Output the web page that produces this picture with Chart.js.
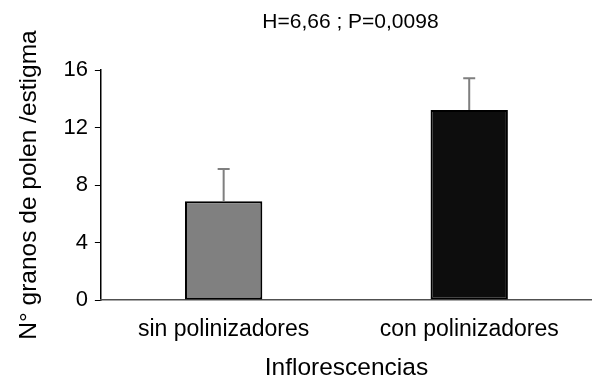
<!DOCTYPE html>
<html>
<head>
<meta charset="utf-8">
<script src="https://cdn.jsdelivr.net/npm/chart.js@4.4.0/dist/chart.umd.min.js"></script>
<style>
  html, body { margin: 0; padding: 0; background: #ffffff; }
  #wrap { width: 592px; height: 383px; }
</style>
</head>
<body>
<div id="wrap"><canvas id="polenChart"></canvas></div>
<script>
var categories = ['sin polinizadores', 'con polinizadores'];
var meanValues = [6.87, 13.22];
var errorTops = [9.11, 15.42];
var yTicks = [0, 4, 8, 12, 16];
var barColors = ['#808080', '#0d0d0d'];
var titleText = 'H=6,66 ; P=0,0098';

var fontFamily = 'Liberation Sans, Arial, sans-serif';

// error bars (upper only) + title centred over plot area
var errorBarPlugin = {
    id: 'errorBars',
    afterDatasetsDraw: function (chart) {
        var ctx = chart.ctx;
        var meta = chart.getDatasetMeta(0);
        var yScale = chart.scales.y;
        ctx.save();
        ctx.strokeStyle = '#7f7f7f';
        ctx.lineWidth = 2;
        meta.data.forEach(function (bar, i) {
            var yTop = yScale.getPixelForValue(errorTops[i]);
            var yBase = yScale.getPixelForValue(meanValues[i]);
            ctx.beginPath();
            ctx.moveTo(bar.x, yBase);
            ctx.lineTo(bar.x, yTop);
            ctx.moveTo(bar.x - 6, yTop);
            ctx.lineTo(bar.x + 6, yTop);
            ctx.stroke();
        });
        var area = chart.chartArea;
        ctx.fillStyle = '#000000';
        ctx.font = '21px ' + fontFamily;
        ctx.textAlign = 'center';
        ctx.textBaseline = 'middle';
        ctx.fillText(titleText, (area.left + area.right) / 2 + 4, 22);
        ctx.restore();
    }
};

var ctxBar = document.getElementById('polenChart');
new Chart(ctxBar, {
    type: 'bar',
    data: {
        labels: categories,
        datasets: [{
            data: meanValues,
            backgroundColor: barColors,
            borderColor: '#000000',
            borderWidth: 2,
            borderSkipped: false,
            barPercentage: 0.315,
            categoryPercentage: 1.0
        }]
    },
    options: {
        responsive: true,
        maintainAspectRatio: false,
        animation: false,
        layout: {
            padding: { top: 70, right: 0, left: 0, bottom: 0 }
        },
        plugins: {
            legend: { display: false },
            tooltip: { enabled: false },
            title: { display: false }
        },
        scales: {
            y: {
                min: 0,
                max: 16,
                afterBuildTicks: function (axis) {
                    axis.ticks = yTicks.map(function (v) { return { value: v }; });
                },
                border: { display: true, color: '#000000', width: 1.5 },
                grid: {
                    display: true,
                    drawOnChartArea: false,
                    drawTicks: true,
                    tickLength: 6,
                    color: '#000000'
                },
                ticks: {
                    color: '#000000',
                    padding: 7,
                    font: { family: fontFamily, size: 22 }
                },
                title: {
                    display: true,
                    text: 'N° granos de polen /estigma',
                    color: '#000000',
                    padding: { top: 15, bottom: 12 },
                    font: { family: fontFamily, size: 24.5 }
                }
            },
            x: {
                border: { display: true, color: '#505050', width: 1.5 },
                grid: { display: false },
                ticks: {
                    color: '#000000',
                    padding: 8,
                    font: { family: fontFamily, size: 23 }
                },
                title: {
                    display: true,
                    text: 'Inflorescencias',
                    color: '#000000',
                    padding: { top: 2, bottom: 0 },
                    font: { family: fontFamily, size: 24.5 }
                }
            }
        }
    },
    plugins: [errorBarPlugin]
});
</script>
</body>
</html>
